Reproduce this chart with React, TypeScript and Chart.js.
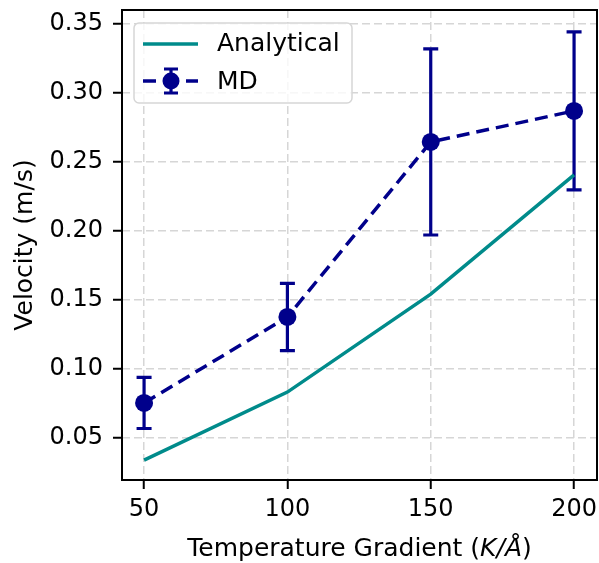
import React, { useEffect, useRef } from "react";
import { Chart, registerables } from "chart.js";
Chart.register(...registerables);

const temperatureGradients = [50, 100, 150, 200];
const analyticalVelocity = [0.034, 0.0833, 0.1543, 0.2406];
const mdVelocity = [0.0754, 0.1377, 0.2645, 0.287];
const mdError = [0.0185, 0.0243, 0.0674, 0.0572];
const xTickValues = [50, 100, 150, 200];
const yTickValues = [0.05, 0.1, 0.15, 0.2, 0.25, 0.3, 0.35];
const xAxisTitleParts = [
  { text: "Temperature Gradient (", italic: false },
  { text: "K/Å", italic: true },
  { text: ")", italic: false },
];
const yAxisTitle = "Velocity (m/s)";
const legendLabels = ["Analytical", "MD"];

const TEAL = "#008b8b";
const NAVY = "#00008b";
const FONT = "DejaVu Sans";
const LABEL_SIZE = 25;
const TICK_SIZE = 24;

const customPlugin = {
  id: "custom",
  beforeDatasetsDraw(chart: any) {
    const ctx = chart.ctx;
    const xs = chart.scales.x;
    const ys = chart.scales.y;
    ctx.save();
    ctx.strokeStyle = NAVY;
    ctx.lineWidth = 3.2;
    ctx.setLineDash([]);
    temperatureGradients.forEach((t, i) => {
      const x = xs.getPixelForValue(t);
      const yt = ys.getPixelForValue(mdVelocity[i] + mdError[i]);
      const yb = ys.getPixelForValue(mdVelocity[i] - mdError[i]);
      ctx.beginPath();
      ctx.moveTo(x, yt);
      ctx.lineTo(x, yb);
      ctx.moveTo(x - 7.5, yt);
      ctx.lineTo(x + 7.5, yt);
      ctx.moveTo(x - 7.5, yb);
      ctx.lineTo(x + 7.5, yb);
      ctx.stroke();
    });
    ctx.restore();
  },
  afterDraw(chart: any) {
    const ctx = chart.ctx;
    const a = chart.chartArea;
    ctx.save();
    ctx.setLineDash([]);
    ctx.strokeStyle = "#000";
    ctx.lineWidth = 2;
    ctx.strokeRect(a.left, a.top, a.right - a.left, a.bottom - a.top);

    // y title
    ctx.fillStyle = "#000";
    ctx.font = `${LABEL_SIZE}px "${FONT}"`;
    ctx.textAlign = "center";
    ctx.textBaseline = "middle";
    ctx.save();
    ctx.translate(25, (a.top + a.bottom) / 2);
    ctx.rotate(-Math.PI / 2);
    ctx.fillText(yAxisTitle, 0, 0);
    ctx.restore();

    // x title
    ctx.textAlign = "left";
    ctx.textBaseline = "alphabetic";
    let total = 0;
    const widths = xAxisTitleParts.map((p) => {
      ctx.font = `${p.italic ? "italic " : ""}${LABEL_SIZE}px "${FONT}"`;
      const w = ctx.measureText(p.text).width;
      total += w;
      return w;
    });
    let x = (a.left + a.right) / 2 - total / 2;
    xAxisTitleParts.forEach((p, i) => {
      ctx.font = `${p.italic ? "italic " : ""}${LABEL_SIZE}px "${FONT}"`;
      ctx.fillText(p.text, x, 556);
      x += widths[i];
    });

    // legend
    const lx = 134, ly = 23, lw = 218, lh = 80, r = 5;
    ctx.beginPath();
    ctx.moveTo(lx + r, ly);
    ctx.arcTo(lx + lw, ly, lx + lw, ly + lh, r);
    ctx.arcTo(lx + lw, ly + lh, lx, ly + lh, r);
    ctx.arcTo(lx, ly + lh, lx, ly, r);
    ctx.arcTo(lx, ly, lx + lw, ly, r);
    ctx.closePath();
    ctx.fillStyle = "rgba(255,255,255,0.8)";
    ctx.fill();
    ctx.strokeStyle = "#d6d6d6";
    ctx.lineWidth = 1.5;
    ctx.stroke();

    ctx.strokeStyle = TEAL;
    ctx.lineWidth = 3.5;
    ctx.beginPath();
    ctx.moveTo(143, 44);
    ctx.lineTo(198, 44);
    ctx.stroke();

    ctx.strokeStyle = NAVY;
    ctx.beginPath();
    ctx.moveTo(143, 81);
    ctx.lineTo(156, 81);
    ctx.moveTo(186, 81);
    ctx.lineTo(198, 81);
    ctx.stroke();
    ctx.lineWidth = 3.2;
    ctx.beginPath();
    ctx.moveTo(171, 69);
    ctx.lineTo(171, 93);
    ctx.moveTo(164, 69);
    ctx.lineTo(178, 69);
    ctx.moveTo(164, 93);
    ctx.lineTo(178, 93);
    ctx.stroke();
    ctx.fillStyle = NAVY;
    ctx.beginPath();
    ctx.arc(171, 81, 8.5, 0, Math.PI * 2);
    ctx.fill();

    ctx.fillStyle = "#000";
    ctx.font = `${LABEL_SIZE}px "${FONT}"`;
    ctx.textBaseline = "middle";
    ctx.fillText(legendLabels[0], 217, 44);
    ctx.fillText(legendLabels[1], 217, 82);
    ctx.restore();
  },
};

export default function App() {
  const ref = useRef<HTMLCanvasElement>(null);
  useEffect(() => {
    document.body.style.margin = "0";
    const chart = new Chart(ref.current!, {
      type: "line",
      data: {
        datasets: [
          {
            label: legendLabels[0],
            data: temperatureGradients.map((t, i) => ({ x: t, y: analyticalVelocity[i] })),
            borderColor: TEAL,
            borderWidth: 3.5,
            pointRadius: 0,
            fill: false,
            tension: 0,
          },
          {
            label: legendLabels[1],
            data: temperatureGradients.map((t, i) => ({ x: t, y: mdVelocity[i] })),
            borderColor: NAVY,
            backgroundColor: NAVY,
            borderWidth: 3.5,
            borderDash: [13, 7],
            pointRadius: 9,
            pointBackgroundColor: NAVY,
            pointBorderWidth: 0,
            fill: false,
            tension: 0,
          },
        ],
      },
      options: {
        responsive: false,
        animation: false,
        layout: { autoPadding: false, padding: { top: 10, right: 2, left: 0, bottom: 0 } },
        plugins: { legend: { display: false }, tooltip: { enabled: false } },
        scales: {
          x: {
            type: "linear",
            min: 42.3,
            max: 208,
            afterFit: (s: any) => {
              s.height = 83;
              s.paddingLeft = 0;
              s.paddingRight = 0;
            },
            afterBuildTicks: (s: any) => { s.ticks = xTickValues.map((v) => ({ value: v })); },
            ticks: {
              color: "#000",
              font: { family: FONT, size: TICK_SIZE },
              padding: 6,
              maxRotation: 0,
              callback: (v: any) => String(v),
            },
            grid: { color: "#d6d6d6", lineWidth: 1.5, tickLength: 9, tickColor: "#000", tickWidth: 2 },
            border: { display: false, dash: [8, 4] },
          },
          y: {
            type: "linear",
            min: 0.0196,
            max: 0.3601,
            afterFit: (s: any) => {
              s.width = 122;
              s.paddingTop = 0;
              s.paddingBottom = 0;
            },
            afterBuildTicks: (s: any) => { s.ticks = yTickValues.map((v) => ({ value: v })); },
            ticks: {
              color: "#000",
              font: { family: FONT, size: TICK_SIZE },
              padding: 10,
              callback: (v: any) => Number(v).toFixed(2),
            },
            grid: { color: "#d6d6d6", lineWidth: 1.5, tickLength: 9, tickColor: "#000", tickWidth: 2 },
            border: { display: false, dash: [8, 4] },
          },
        },
      },
      plugins: [customPlugin],
    });
    return () => chart.destroy();
  }, []);
  return (
    <div style={{ position: "absolute", left: 0, top: 0, width: 599, height: 563, background: "#fff" }}>
      <canvas ref={ref} width={599} height={563} />
    </div>
  );
}
